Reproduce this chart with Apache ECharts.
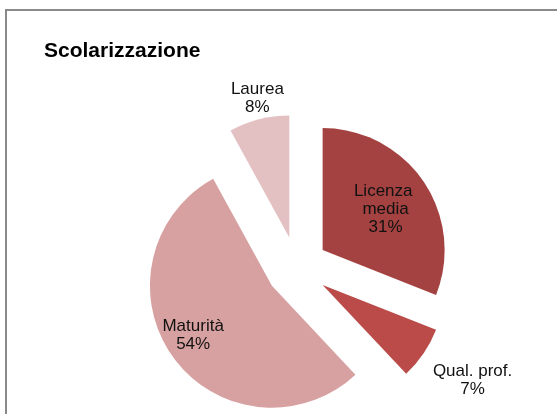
<!DOCTYPE html>
<html>
<head>
<meta charset="utf-8">
<script src="https://cdn.jsdelivr.net/npm/echarts@6/dist/echarts.min.js"></script>
<style>
  html, body { margin: 0; padding: 0; background: #fff; }
  #chart { width: 557px; height: 414px; }
</style>
</head>
<body>
<div id="chart"></div>
<script>
const categories = ['Licenza media', 'Qual. prof.', 'Maturità', 'Laurea']
const shares = [31, 7, 54, 8]
const sliceColors = ['#A34240', '#BA4B48', '#D8A1A1', '#E3C1C3']
// spostamento delle etichette rispetto alla posizione interna
const labelOffsets = [[10, -5], [97, 59], [-27, 12], [-16, -77]]

const chart = echarts.init(document.getElementById('chart'))

const option = {
  animation: false,
  backgroundColor: '#fff',
  title: {
    text: 'Scolarizzazione',
    left: 44,
    top: 41,
    padding: 0,
    textStyle: {
      fontFamily: 'Liberation Sans',
      fontSize: 21,
      fontWeight: 'bold',
      color: '#000'
    }
  },
  graphic: [{
    type: 'rect',
    shape: { x: 6, y: 10, width: 620, height: 480 },
    style: { fill: 'none', stroke: '#8a8a8a', lineWidth: 2 },
    silent: true
  }],
  series: [{
    type: 'pie',
    center: [297, 267.5],
    radius: 122,
    startAngle: 90,
    clockwise: true,
    selectedMode: 'multiple',
    selectedOffset: 31,
    emphasis: { disabled: true },
    select: { itemStyle: { borderWidth: 0 } },
    labelLine: { show: false },
    label: {
      position: 'inside',
      formatter: '{b}\n{d}%',
      fontFamily: 'Liberation Sans',
      fontSize: 17,
      lineHeight: 18,
      color: '#111',
      width: 90,
      overflow: 'break'
    },
    labelLayout: params => ({
      dx: labelOffsets[params.dataIndex][0],
      dy: labelOffsets[params.dataIndex][1]
    }),
    data: categories.map((name, i) => ({
      name: name,
      value: shares[i],
      selected: true,
      itemStyle: { color: sliceColors[i] }
    }))
  }]
}

chart.setOption(option)
</script>
</body>
</html>
